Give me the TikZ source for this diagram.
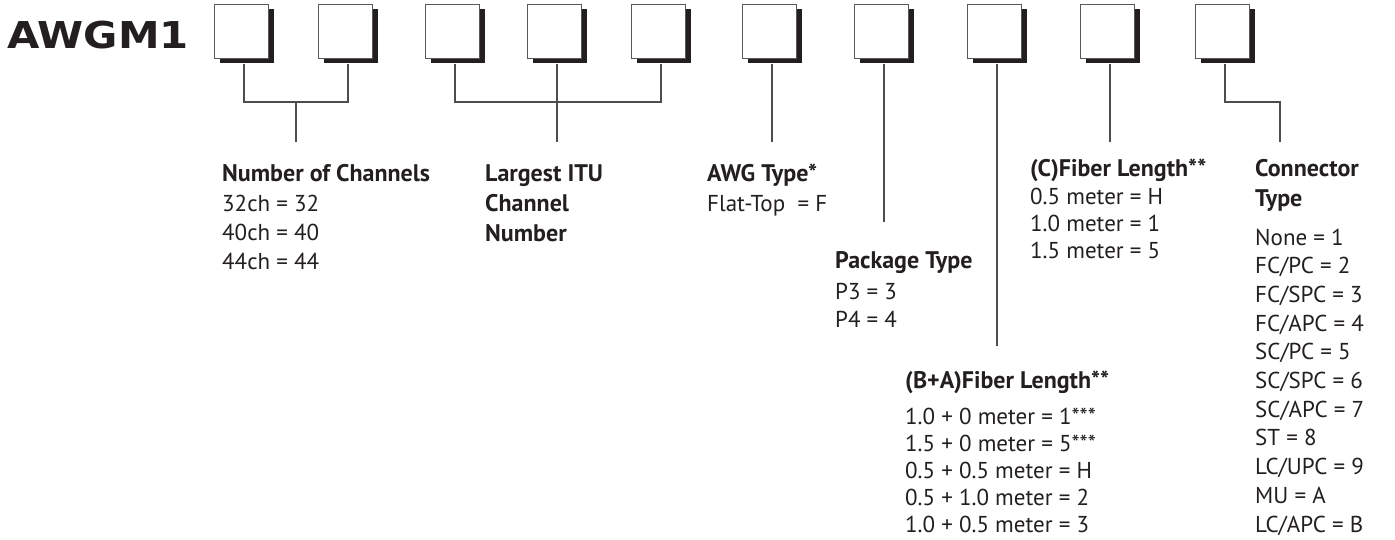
\documentclass[tikz,border=0pt]{standalone}
\usepackage{fontspec}
\usepackage{graphicx}
\setmainfont{PT Sans}
\newfontfamily\logofont{DejaVu Sans}
\usetikzlibrary{shadows}
\definecolor{ink}{HTML}{231F20}
\definecolor{linegray}{HTML}{4D4D4D}
\tikzset{
  codebox/.style={draw=gray!70!black, line width=1pt, fill=white, inner sep=0pt,
    minimum width=54pt, minimum height=54pt,
    drop shadow={shadow xshift=6pt, shadow yshift=-5pt, fill=ink, opacity=1}},
  head/.style={anchor=base west, inner sep=0pt, text=ink, font=\fontsize{24}{29}\selectfont\bfseries},
  item/.style={anchor=base west, inner sep=0pt, text=ink, font=\fontsize{23}{28}\selectfont},
  wire/.style={draw=linegray, line width=1.2pt}
}

\begin{document}
\begin{tikzpicture}[x=1pt, y=-1pt]
\useasboundingbox (0,0) rectangle (1395,539);

% part number
\node[anchor=base west, inner sep=0pt, text=ink, font=\logofont\bfseries\fontsize{37}{37}\selectfont] (logo) at (7,48) {\scalebox{1.13}[1]{AWGM1}};

% code boxes
\foreach \xx [count=\i] in {241,345,452,554,658,769,881,994,1107,1222}
{
  \node[codebox] (b\i) at (\xx,31) {};
  \coordinate (p\i) at ([xshift=3pt,yshift=-5pt]b\i.south);
}

% levels where the leads stop
\coordinate (lvl) at (0,142);
\coordinate (lvlpk) at (0,222);
\coordinate (lvlba) at (0,346);
\coordinate (j1) at (296,102);
\coordinate (j2) at (557,102);
\coordinate (k1) at (1280,102);

% leads
\draw[wire] (p1) |- (j1) -| (p2);
\draw[wire] (j1) -- (j1 |- lvl);
\draw[wire] (p3) |- (j2) -| (p5);
\draw[wire] (p4) -- (p4 |- lvl);
\draw[wire] (p6) -- (p6 |- lvl);
\draw[wire] (p7) -- (p7 |- lvlpk);
\draw[wire] (p8) -- (p8 |- lvlba);
\draw[wire] (p9) -- (p9 |- lvl);
\draw[wire] (p10) |- (k1) -- (k1 |- lvl);

% number of channels
\node[head] (nch) at (222,181) {Number of Channels};
\foreach \txt [count=\i from 0] in {32ch = 32, 40ch = 40, 44ch = 44}
  \node[item] (nch\i) at (222,{211+29*\i}) {\txt};

% largest ITU channel
\foreach \txt [count=\i from 0] in {Largest ITU, Channel, Number}
  \node[head] (itu\i) at (485,{181+30*\i}) {\txt};

% AWG type
\node[head] (awg) at (707,181) {AWG Type*};
\node[item] (awg0) at (707,211) {Flat-Top\ \ = F};

% package type
\node[head] (pkg) at (835,268) {Package Type};
\foreach \txt [count=\i from 0] in {P3 = 3, P4 = 4}
  \node[item] (pkg\i) at (835,{299+28*\i}) {\txt};

% (B+A) fiber length
\node[head] (fba) at (905,388) {(B+A)Fiber Length**};
\foreach \txt [count=\i from 0] in {1.0 + 0 meter = 1***, 1.5 + 0 meter = 5***,
    0.5 + 0.5 meter = H, 0.5 + 1.0 meter = 2, 1.0 + 0.5 meter = 3}
  \node[item] (fba\i) at (905,{424+27*\i}) {\txt};

% (C) fiber length
\node[head] (fc) at (1030,176) {(C)Fiber Length**};
\foreach \txt [count=\i from 0] in {0.5 meter = H, 1.0 meter = 1, 1.5 meter = 5}
  \node[item] (fc\i) at (1030,{204+27*\i}) {\txt};

% connector type
\node[head] (con) at (1255,176) {Connector};
\node[head] (con1) at (1255,206) {Type};
\foreach \txt [count=\i from 0] in {None = 1, FC/PC = 2, FC/SPC = 3, FC/APC = 4,
    SC/PC = 5, SC/SPC = 6, SC/APC = 7, ST = 8, LC/UPC = 9, MU = A, LC/APC = B}
  \node[item] (cn\i) at (1255,{245+28.7*\i}) {\txt};
\end{tikzpicture}
\end{document}
